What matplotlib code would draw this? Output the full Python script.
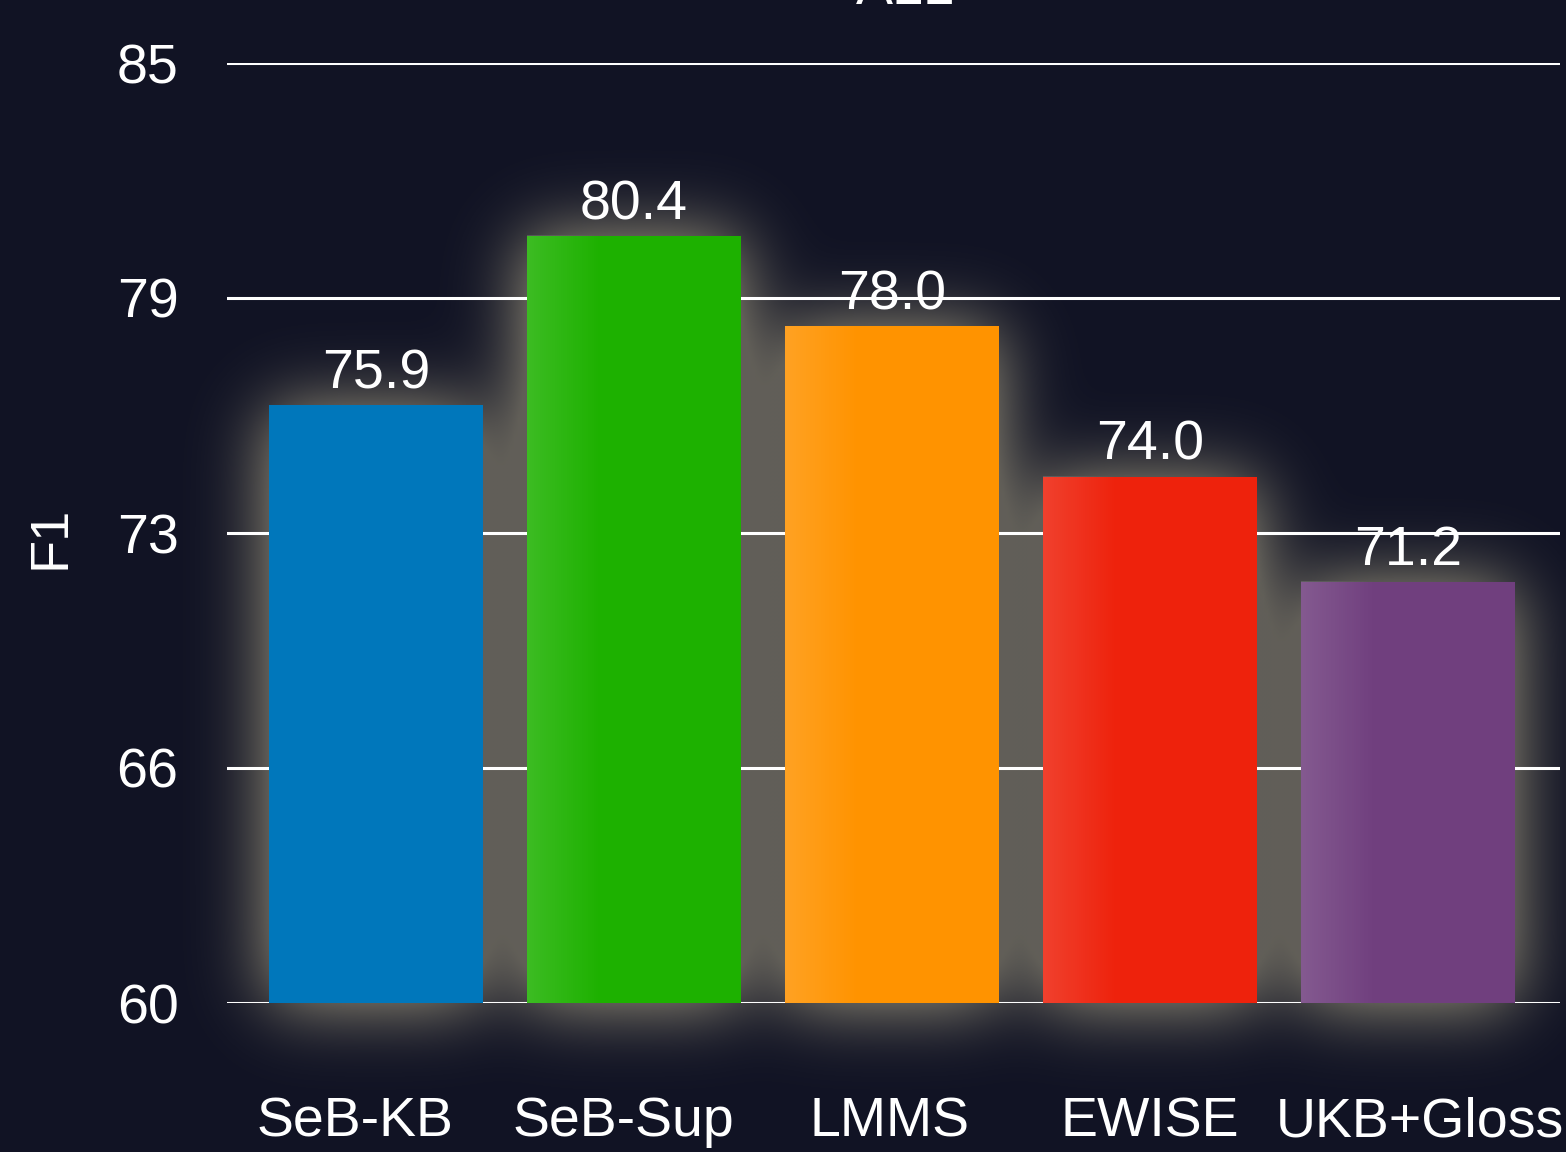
import numpy as np
import matplotlib
matplotlib.use('Agg')
import matplotlib.pyplot as plt
import matplotlib.transforms as mtransforms

# data
methods = ['SeB-KB', 'SeB-Sup', 'LMMS', 'EWISE', 'UKB+Gloss']
f1_scores = [75.9, 80.4, 78.0, 74.0, 71.2]
bar_colors = ['#0077bb', '#1db100', '#ff9300', '#ee220c', '#703f7e']
ytick_labels = ['60', '66', '73', '79', '85']

plt.rcParams['font.family'] = ['Liberation Sans', 'DejaVu Sans']

W, H = 1566, 1152
bg = '#111324'
fig = plt.figure(figsize=(W / 100, H / 100), dpi=100, facecolor=bg)

# glow layer behind everything
ax_bg = fig.add_axes([0, 0, 1, 1], zorder=0)
ax_bg.set_axis_off()

ax = fig.add_axes([227 / W, 149 / H, (1560 - 227) / W, (1003 - 63) / H], zorder=1)
ax.patch.set_alpha(0)
ax.set_xlim(-0.5775, 4.589)
ax.set_ylim(60, 85)

x = np.arange(len(methods))
bars = ax.bar(x, [v - 60 for v in f1_scores], bottom=60, width=0.833,
              color=bar_colors, zorder=2)

# gray glow around bars: blurred mask in figure pixels
scale = 4
gh, gw = H // scale, W // scale
mask = np.zeros((gh, gw))
for b in bars:
    (x0, y0), (x1, y1) = ax.transData.transform([(b.get_x(), b.get_y()),
                                                 (b.get_x() + b.get_width(), b.get_y() + b.get_height())])
    mask[int(y0 / scale):int(y1 / scale), int(x0 / scale):int(x1 / scale)] = 1.0

sigma = 36 / scale
k = np.arange(-int(4 * sigma), int(4 * sigma) + 1)
kern = np.exp(-0.5 * (k / sigma) ** 2)
kern /= kern.sum()
blur = np.apply_along_axis(lambda r: np.convolve(r, kern, mode='same'), 1, mask)
blur = np.apply_along_axis(lambda c: np.convolve(c, kern, mode='same'), 0, blur)
alpha = np.clip(blur * 1.9, 0, 1) * 0.95
rgba = np.zeros((gh, gw, 4))
rgba[..., 0] = 0.40
rgba[..., 1] = 0.39
rgba[..., 2] = 0.36
rgba[..., 3] = alpha
ax_bg.imshow(rgba, extent=[0, W, 0, H], origin='lower', aspect='auto', interpolation='bilinear')
ax_bg.set_xlim(0, W)
ax_bg.set_ylim(0, H)

# subtle light edge on left of bars
grad = np.zeros((1, 100, 4))
grad[..., :3] = 1.0
grad[0, :, 3] = np.clip(0.14 * (1 - np.linspace(0, 1, 100) / 0.35), 0, None)
for i, b in enumerate(bars):
    if i == 0:
        continue
    ax.imshow(grad, extent=[b.get_x(), b.get_x() + b.get_width(), 60, f1_scores[i]],
              aspect='auto', zorder=2.5, interpolation='bilinear')
ax.set_xlim(-0.5775, 4.589)
ax.set_ylim(60, 85)

# grid
yt = np.linspace(60, 85, 5)
for y in yt:
    ax.axhline(y, color='white', lw=2.2, zorder=1)

ax.set_yticks(yt)
ax.set_yticklabels(ytick_labels)
ax.set_xticks(x)
ax.set_xticklabels(methods)
ax.tick_params(axis='y', length=0, pad=35, labelsize=40, labelcolor='white')
ax.tick_params(axis='x', length=0, pad=67, labelsize=40, labelcolor='white')
for s in ax.spines.values():
    s.set_visible(False)

# small horizontal nudges of category labels (pixels)
label_shift = [-21, -11, -3, 0, 12]
for lab, dx in zip(ax.get_xticklabels(), label_shift):
    lab.set_transform(lab.get_transform() + mtransforms.ScaledTranslation(dx / 100, 0, fig.dpi_scale_trans))

for i, v in enumerate(f1_scores):
    ax.text(i, v + 0.45, f'{v:.1f}', ha='center', va='baseline', color='white',
            fontsize=40, zorder=3)

fig.text(51 / W, 1 - 537 / H, 'F1', rotation=90, ha='center', va='center',
         color='white', fontsize=39)
fig.text(905 / W, 1 - 4 / H, 'ALL', ha='center', va='baseline', color='white', fontsize=40)

fig.savefig('out.png', dpi=100, facecolor=bg)
